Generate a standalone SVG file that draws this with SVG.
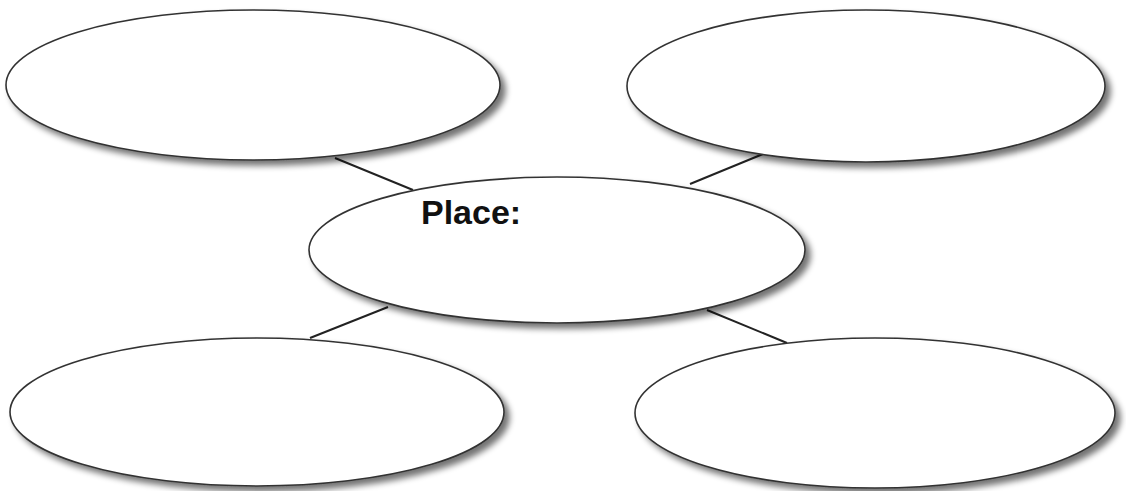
<svg xmlns="http://www.w3.org/2000/svg" width="1126" height="491" viewBox="0 0 1126 491">
<defs>
<filter id="sh" x="-10%" y="-20%" width="125%" height="150%">
<feGaussianBlur in="SourceAlpha" stdDeviation="3"/>
<feOffset dx="5" dy="5" result="b"/>
<feComponentTransfer><feFuncA type="linear" slope="0.55"/></feComponentTransfer>
<feMerge><feMergeNode/><feMergeNode in="SourceGraphic"/></feMerge>
</filter>
<style>
.n{fill:#fff;stroke:#333;stroke-width:1.6;filter:url(#sh)}
.c{stroke:#222;stroke-width:2;fill:none}
.t{font-family:"Liberation Sans",Arial,sans-serif;font-weight:bold;font-size:34px;fill:#111}
</style>
</defs>
<rect width="1126" height="491" fill="#fff"/>
<g id="connectors">
<line class="c" x1="335" y1="158" x2="413" y2="190"/>
<line class="c" x1="763" y1="154" x2="690" y2="184"/>
<line class="c" x1="310" y1="338" x2="388" y2="307"/>
<line class="c" x1="707" y1="310" x2="787" y2="343"/>
</g>
<g id="node-top-left"><ellipse class="n" cx="253" cy="85" rx="247" ry="75"/></g>
<g id="node-top-right"><ellipse class="n" cx="866" cy="86" rx="239" ry="76"/></g>
<g id="node-bottom-left"><ellipse class="n" cx="257" cy="412" rx="247" ry="74"/></g>
<g id="node-bottom-right"><ellipse class="n" cx="875" cy="413" rx="240" ry="75"/></g>
<g id="node-center"><ellipse class="n" cx="557" cy="250" rx="248" ry="73"/>
<text class="t" x="421" y="224">Place:</text></g>
</svg>
